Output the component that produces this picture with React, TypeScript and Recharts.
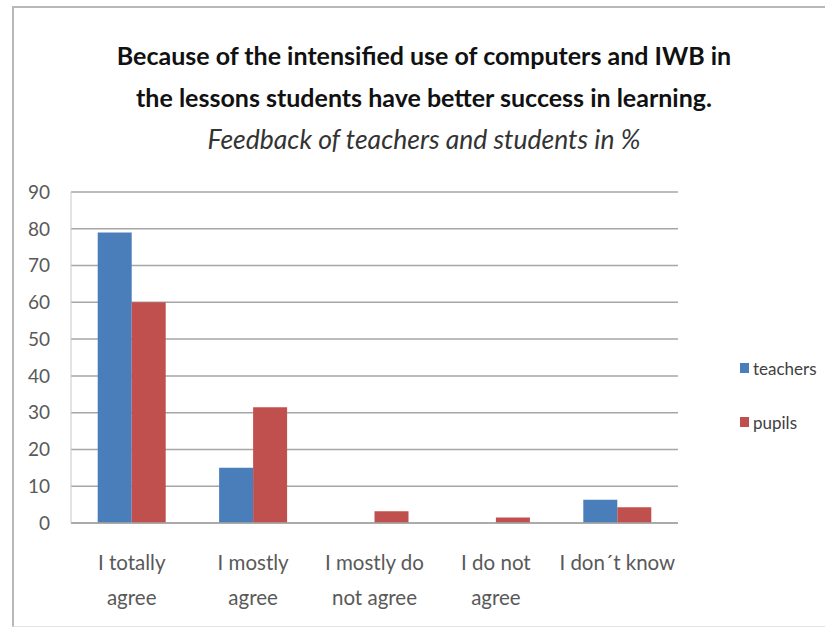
import React from 'react'
import { BarChart, Bar, XAxis, YAxis, CartesianGrid, Legend } from 'recharts'

const categories = ['I totally\nagree', 'I mostly\nagree', 'I mostly do\nnot agree', 'I do not\nagree', 'I don´t know']
const teachers = [79, 15, 0, 0, 6.3]
const pupils = [60, 31.5, 3.2, 1.5, 4.3]
const yTicks = [0, 10, 20, 30, 40, 50, 60, 70, 80, 90]

const series = [
  { key: 'teachers', color: '#4a7ebb' },
  { key: 'pupils', color: '#c0504d' },
]

const data = categories.map((name, i) => ({ name, teachers: teachers[i], pupils: pupils[i] }))

const FONT = "Lato, 'Open Sans', sans-serif"

// two-line category labels, split on the newline
const CategoryTick = (props: any) => {
  const { x, y, payload } = props
  const lines = String(payload.value).split('\n')
  return (
    <text x={x} y={y} textAnchor="middle" fill="#595959" fontSize={20.5} fontFamily={FONT}>
      {lines.map((l, i) => (
        <tspan key={i} x={x} dy={i === 0 ? 45 : 35}>
          {l}
        </tspan>
      ))}
    </text>
  )
}

const SideLegend = () => (
  <div style={{ fontFamily: FONT, fontSize: 17, color: '#404040' }}>
    {series.map((s) => (
      <div key={s.key} style={{ display: 'flex', alignItems: 'center', height: 54 }}>
        <span style={{ width: 9, height: 10, background: s.color, marginRight: 4 }} />
        {s.key}
      </div>
    ))}
  </div>
)

export default function App() {
  return (
    <div style={{ position: 'absolute', left: 0, top: 0, width: 825, height: 628, background: '#fff', overflow: 'hidden' }}>
      <div
        style={{
          position: 'absolute',
          left: 12,
          top: 6,
          width: 830,
          height: 618,
          borderTop: '2px solid #b8b8b8',
          borderLeft: '2px solid #b8b8b8',
          borderBottom: '1px solid #e4e4e4',
        }}
      />
      <div
        style={{
          position: 'absolute',
          left: 13,
          width: 822,
          top: 34,
          textAlign: 'center',
          fontFamily: FONT,
          fontWeight: 'bold',
          fontSize: 25,
          lineHeight: '42px',
          color: '#111',
        }}
      >
        Because of the intensified use of computers and IWB in
        <br />
        the lessons students have better success in learning.
      </div>
      <div
        style={{
          position: 'absolute',
          left: 13,
          width: 822,
          top: 121,
          textAlign: 'center',
          fontFamily: FONT,
          fontStyle: 'italic',
          fontSize: 26.5,
          lineHeight: '36px',
          color: '#333',
        }}
      >
        Feedback of teachers and students in %
      </div>
      <div style={{ position: 'absolute', left: 0, top: 0 }}>
        <BarChart
          width={825}
          height={628}
          data={data}
          margin={{ top: 192, right: 147, bottom: 25, left: 21 }}
          barCategoryGap="22%"
          barGap={0}
        >
          <CartesianGrid vertical={false} stroke="#a6a6a6" strokeWidth={1.5} />
          <XAxis
            dataKey="name"
            interval={0}
            height={80}
            tickLine={false}
            tickSize={0}
            axisLine={{ stroke: '#a6a6a6', strokeWidth: 1.5 }}
            tick={<CategoryTick />}
          />
          <YAxis
            domain={[0, 90]}
            ticks={yTicks}
            width={50}
            tickLine={false}
            tickSize={0}
            tickMargin={21}
            axisLine={{ stroke: '#c8c8c8' }}
            tick={{ fill: '#595959', fontSize: 19, fontFamily: FONT }}
          />
          <Legend
            layout="vertical"
            verticalAlign="middle"
            align="center"
            wrapperStyle={{ left: 740, top: 341, width: 90 }}
            content={<SideLegend />}
          />
          {series.map((s) => (
            <Bar key={s.key} dataKey={s.key} fill={s.color} isAnimationActive={false} />
          ))}
        </BarChart>
      </div>
    </div>
  )
}
